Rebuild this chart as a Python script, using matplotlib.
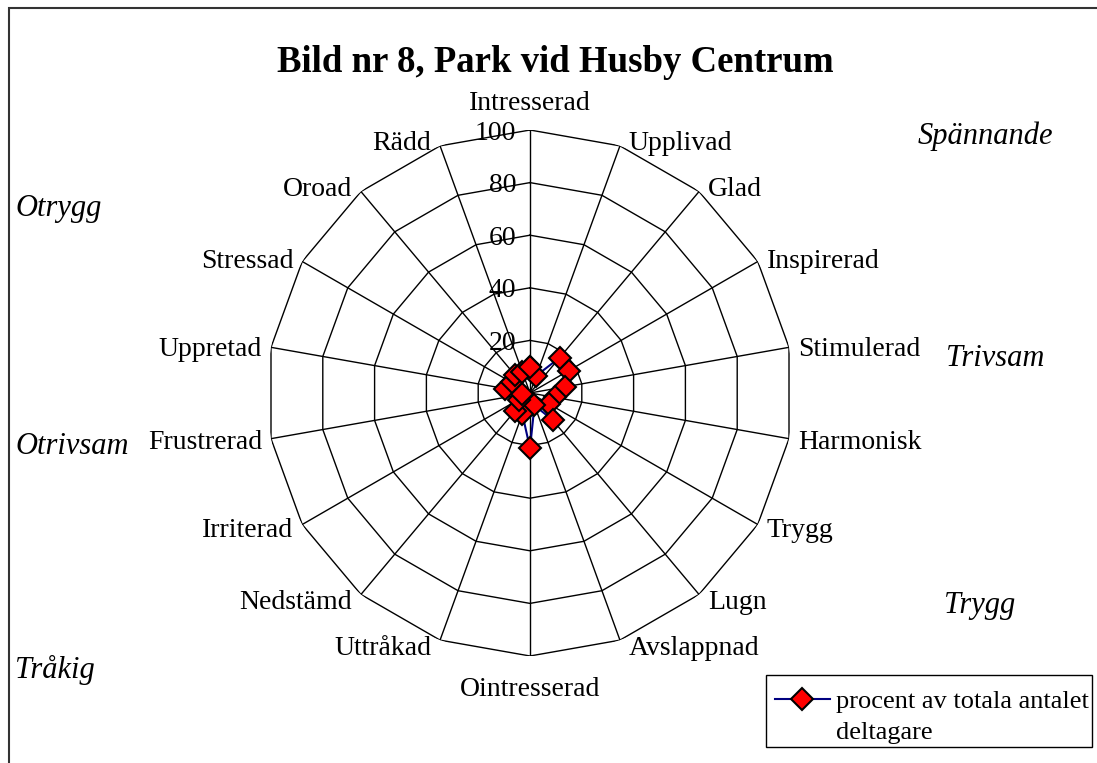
import matplotlib.pyplot as plt
import numpy as np
from matplotlib.lines import Line2D
from matplotlib.patches import Rectangle

plt.rcParams["font.family"] = ["Liberation Serif", "DejaVu Serif"]

# Emotion axes, clockwise from the top
categories = [
    "Intresserad", "Upplivad", "Glad", "Inspirerad", "Stimulerad", "Harmonisk",
    "Trygg", "Lugn", "Avslappnad", "Ointresserad", "Uttråkad", "Nedstämd",
    "Irriterad", "Frustrerad", "Uppretad", "Stressad", "Oroad", "Rädd",
]
# Share of all participants (%) choosing each word
values = [10, 7, 17.5, 17, 13.5, 9.5, 8.5, 13.5, 5, 21, 8.5, 9, 5, 3, 9.5, 8, 9, 8.5]

ring_ticks = [20, 40, 60, 80, 100]

# Mood labels placed around the chart
left_moods = ["Otrygg", "Otrivsam", "Tråkig"]
left_mood_y = [205, 443, 667]
right_moods = ["Spännande", "Trivsam", "Trygg"]
right_mood_x = [985, 995, 980]
right_mood_y = [133, 356, 602]

W, H = 1097, 763
DY = 3  # text boxes sit a little high with va="center"; nudge them down
fig = plt.figure(figsize=(W / 100, H / 100), dpi=100)


def fy(y):
    return 1 - (y + DY) / H


# outer chart frame (runs off the right and bottom edge)
fig.patches.append(Rectangle((9 / W, -0.05), 1.1, 1.05 - 8 / H, transform=fig.transFigure,
                             fill=False, edgecolor="#333333", linewidth=1.5))

cx, cy, rad = 530, 393, 263
ax = fig.add_axes([(cx - rad) / W, (H - cy - rad) / H, 2 * rad / W, 2 * rad / H],
                  projection="polar")
ax.set_theta_zero_location("N")
ax.set_theta_direction(-1)
ax.set_ylim(0, 100)
ax.grid(False)
ax.spines["polar"].set_visible(False)
ax.set_xticks([])
ax.set_yticks([])
ax.patch.set_alpha(0)

theta = np.deg2rad(np.arange(len(categories)) * 360 / len(categories))
theta_closed = np.append(theta, theta[0])

# polygon rings and spokes
for r in ring_ticks:
    ax.plot(theta_closed, [r] * len(theta_closed), color="black", linewidth=1)
for t in theta:
    ax.plot([t, t], [0, 100], color="black", linewidth=1)

# radial scale along the top spoke
for r in ring_ticks:
    ax.annotate(str(r), xy=(0, r), xytext=(-14, -DY), textcoords="offset pixels",
                ha="right", va="center", fontsize=20)

# category labels
for t, name in zip(theta, categories):
    s, c = np.sin(t), np.cos(t)
    if abs(s) < 0.1:
        ha = "center"
        off = (0, (29 if c > 0 else -30) - DY)
    else:
        ha = "left" if s > 0 else "right"
        off = (9 if s > 0 else -9, 6 * c - DY)
    ax.annotate(name, xy=(t, 100), xytext=off, textcoords="offset pixels",
                ha=ha, va="center", fontsize=20)

# data series
vals_closed = values + values[:1]
ax.plot(theta_closed, vals_closed, color="#000080", linewidth=1.5, marker="D",
        markersize=11, markerfacecolor="red", markeredgecolor="black",
        markeredgewidth=1.5, clip_on=False, zorder=5)

fig.text(555 / W, fy(60), "Bild nr 8, Park vid Husby Centrum", ha="center",
         va="center", fontsize=26.5, fontweight="bold")

for name, y in zip(left_moods, left_mood_y):
    fig.text(15 / W, fy(y), name, ha="left", va="center", fontsize=22, style="italic")
for name, x, y in zip(right_moods, right_mood_x, right_mood_y):
    fig.text(x / W, fy(y), name, ha="center", va="center", fontsize=22, style="italic")

# legend box
fig.patches.append(Rectangle((766 / W, 1 - 747 / H), 326 / W, 72 / H, transform=fig.transFigure,
                             fill=False, edgecolor="black", linewidth=1))
fig.lines.append(Line2D([775 / W, 830 / W], [1 - 699 / H, 1 - 699 / H], transform=fig.transFigure,
                        color="#000080", linewidth=1.5))
fig.lines.append(Line2D([802 / W], [1 - 699 / H], transform=fig.transFigure, marker="D",
                        markersize=11, markerfacecolor="red", markeredgecolor="black",
                        markeredgewidth=1.5))
fig.text(836 / W, fy(699), "procent av totala antalet", ha="left", va="center", fontsize=19)
fig.text(836 / W, fy(730), "deltagare", ha="left", va="center", fontsize=19)

fig.savefig("out.png", dpi=100)
